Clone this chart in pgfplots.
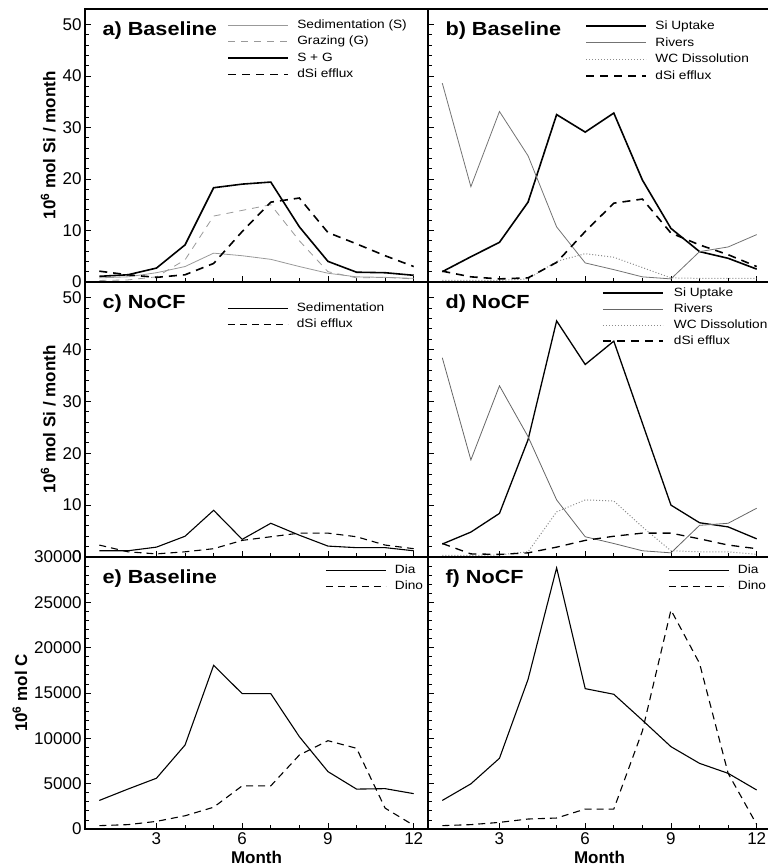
\documentclass[border=0pt]{standalone}
\usepackage{fontspec}
\setmainfont{Liberation Sans}
\newfontfamily\widefont{Liberation Sans}[FakeStretch=1.14]
\usepackage{pgfplots}
\pgfplotsset{compat=1.18}

\pgfplotsset{
  panel/.style={
    scale only axis, width=343pt,
    xmin=0.5, xmax=12.5,
    xtick={3,6,9,12}, minor x tick num=2, xticklabels={},
    tick align=inside, tick pos=left,
    major tick length=6pt, minor tick length=3.5pt,
    axis line style={line width=1.2pt},
    every tick/.style={black, line width=0.8pt},
    tick label style={font=\fontsize{17}{17}\selectfont},
    label style={font=\bfseries\fontsize{17}{17}\selectfont},
    /pgf/number format/assume math mode=true,
    /pgf/number format/1000 sep={},
    scaled y ticks=false,
    legend cell align=left,
    legend style={draw=none, fill=none, anchor=north west,
      inner sep=0pt, row sep=2pt,
      font=\widefont\fontsize{12}{12}\selectfont,
      nodes={inner sep=1.5pt, text height=9pt, text depth=2.5pt},
      /tikz/every odd column/.append style={column sep=7pt}},
    legend image code/.code={\draw[##1] (0pt,0pt) -- (60pt,0pt);},
  },
  si/.style={ymin=0, ymax=53, ytick={0,10,...,50}, minor y tick num=4},
  carb/.style={ymin=0, ymax=30000, ytick={0,5000,...,30000}, minor y tick num=4},
}
\tikzset{
  ttl/.style={anchor=base west, xshift=14pt, yshift=-27pt,
    font=\widefont\bfseries\fontsize{19}{19}\selectfont},
  thk/.style={black, line width=1.6pt},
  thkd/.style={black, line width=1.6pt, dash pattern=on 8pt off 6pt},
}

\begin{document}
\begin{tikzpicture}
\useasboundingbox (0,0) rectangle (768pt,868pt);

% a) Baseline
\begin{axis}[panel, si, height=273pt, at={(85pt,859pt)}, anchor=north west,
  ylabel={10\textsuperscript{6} mol Si / month},
  legend style={at={(axis description cs:0.414,0.969)}}]
\addplot[black!40, line width=0.8pt] coordinates {(1,0.8) (2,1.0) (3,1.8) (4,3.0) (5,5.6) (6,5.1) (7,4.4) (8,3.0) (9,1.7) (10,1.0) (11,0.9) (12,0.7)};
\addlegendentry{Sedimentation (S)}
\addplot[black!40, line width=0.8pt, dash pattern=on 7pt off 6pt] coordinates {(1,0.3) (2,0.4) (3,1.0) (4,4.3) (5,12.8) (6,13.9) (7,15.0) (8,8.0) (9,2.0) (10,0.8) (11,0.9) (12,0.6)};
\addlegendentry{Grazing (G)}
\addplot[thk] coordinates {(1,1.1) (2,1.4) (3,2.7) (4,7.2) (5,18.3) (6,19.0) (7,19.4) (8,10.7) (9,4.0) (10,1.9) (11,1.8) (12,1.3)};
\addlegendentry{S + G}
\addplot[thkd] coordinates {(1,2.1) (2,1.4) (3,0.9) (4,1.4) (5,3.6) (6,9.8) (7,15.5) (8,16.3) (9,9.6) (10,7.4) (11,5.1) (12,3.0)};
\addlegendentry{dSi efflux}
\node[ttl] at (rel axis cs:0,1) {a) Baseline};
\end{axis}

% b) Baseline
\begin{axis}[panel, si, height=273pt, at={(428pt,859pt)}, anchor=north west,
  yticklabels={},
  legend style={at={(axis description cs:0.458,0.964)}}]
\addplot[thk] coordinates {(1,2.0) (2,4.9) (3,7.7) (4,15.5) (5,32.5) (6,29.1) (7,32.8) (8,19.8) (9,10.4) (10,5.9) (11,4.6) (12,2.5)};
\addlegendentry{Si Uptake}
\addplot[black!55, line width=0.8pt] coordinates {(1,38.6) (2,18.5) (3,33.1) (4,24.5) (5,10.7) (6,3.7) (7,2.4) (8,1.0) (9,0.6) (10,5.9) (11,6.8) (12,9.2)};
\addlegendentry{Rivers}
\addplot[black!45, line width=1pt, dash pattern=on 1pt off 2pt] coordinates {(1,0.3) (2,0.3) (3,0.3) (4,0.6) (5,4.0) (6,5.5) (7,4.8) (8,2.8) (9,0.8) (10,0.7) (11,0.7) (12,0.7)};
\addlegendentry{WC Dissolution}
\addplot[thkd] coordinates {(1,2.1) (2,1.0) (3,0.6) (4,0.8) (5,3.8) (6,9.8) (7,15.3) (8,16.1) (9,9.5) (10,7.2) (11,5.3) (12,3.0)};
\addlegendentry{dSi efflux}
\node[ttl] at (rel axis cs:0,1) {b) Baseline};
\end{axis}

% c) NoCF
\begin{axis}[panel, si, height=275pt, at={(85pt,586pt)}, anchor=north west,
  ylabel={10\textsuperscript{6} mol Si / month},
  legend style={at={(axis description cs:0.414,0.932)}}]
\addplot[black, line width=1.1pt] coordinates {(1,1.2) (2,1.2) (3,1.9) (4,4.0) (5,9.0) (6,3.4) (7,6.5) (8,4.2) (9,2.1) (10,1.8) (11,1.8) (12,1.2)};
\addlegendentry{Sedimentation}
\addplot[black, line width=1.1pt, dash pattern=on 7pt off 5pt] coordinates {(1,2.3) (2,1.0) (3,0.6) (4,1.0) (5,1.6) (6,3.2) (7,3.9) (8,4.6) (9,4.6) (10,3.9) (11,2.3) (12,1.6)};
\addlegendentry{dSi efflux}
\node[ttl] at (rel axis cs:0,1) {c) NoCF};
\end{axis}

% d) NoCF
\begin{axis}[panel, si, height=275pt, at={(428pt,586pt)}, anchor=north west,
  yticklabels={},
  legend style={at={(axis description cs:0.507,0.987)}, row sep=1.5pt,
    /tikz/every odd column/.append style={column sep=9pt}}]
\addplot[black, line width=1.3pt] coordinates {(1,2.5) (2,4.8) (3,8.4) (4,22.6) (5,45.5) (6,37.1) (7,41.6) (8,25.8) (9,10.0) (10,6.6) (11,5.8) (12,3.5)};
\addlegendentry{Si Uptake}
\addplot[black!60, line width=0.8pt] coordinates {(1,38.4) (2,18.7) (3,33.0) (4,23.2) (5,11.0) (6,3.9) (7,2.6) (8,1.2) (9,0.8) (10,6.1) (11,6.5) (12,9.4)};
\addlegendentry{Rivers}
\addplot[black!45, line width=1pt, dash pattern=on 1pt off 2pt] coordinates {(1,0.3) (2,0.3) (3,0.4) (4,1.0) (5,8.7) (6,11.0) (7,10.8) (8,5.8) (9,1.2) (10,1.0) (11,1.0) (12,0.5)};
\addlegendentry{WC Dissolution}
\addplot[black, line width=1.3pt, dash pattern=on 8pt off 6pt] coordinates {(1,2.6) (2,0.6) (3,0.5) (4,0.8) (5,1.9) (6,3.2) (7,4.0) (8,4.6) (9,4.6) (10,3.5) (11,2.3) (12,1.6)};
\addlegendentry{dSi efflux}
\node[ttl] at (rel axis cs:0,1) {d) NoCF};
\end{axis}

% e) Baseline
\begin{axis}[panel, carb, height=272pt, at={(85pt,311pt)}, anchor=north west,
  xticklabels={3,6,9,12}, xlabel={Month},
  ylabel={10\textsuperscript{6} mol C},
  legend style={at={(axis description cs:0.70,0.979)}}]
\addplot[black, line width=1.1pt] coordinates {(1,3150) (2,4400) (3,5600) (4,9260) (5,18050) (6,14930) (7,14930) (8,10180) (9,6330) (10,4400) (11,4450) (12,3900)};
\addlegendentry{Dia}
\addplot[black, line width=1.1pt, dash pattern=on 7pt off 5pt] coordinates {(1,370) (2,480) (3,840) (4,1460) (5,2400) (6,4760) (7,4760) (8,8160) (9,9740) (10,8900) (11,2300) (12,400)};
\addlegendentry{Dino}
\node[ttl] at (rel axis cs:0,1) {e) Baseline};
\end{axis}

% f) NoCF
\begin{axis}[panel, carb, height=272pt, at={(428pt,311pt)}, anchor=north west,
  xticklabels={3,6,9,12}, xlabel={Month}, yticklabels={},
  legend style={at={(axis description cs:0.70,0.979)}}]
\addplot[black, line width=1.1pt] coordinates {(1,3150) (2,4980) (3,7800) (4,16500) (5,28800) (6,15480) (7,14860) (8,12000) (9,9080) (10,7240) (11,6140) (12,4300)};
\addlegendentry{Dia}
\addplot[black, line width=1.1pt, dash pattern=on 7pt off 5pt] coordinates {(1,370) (2,480) (3,730) (4,1100) (5,1210) (6,2200) (7,2200) (8,10800) (9,24150) (10,18270) (11,6140) (12,500)};
\addlegendentry{Dino}
\node[ttl] at (rel axis cs:0,1) {f) NoCF};
\end{axis}
\end{tikzpicture}
\end{document}
